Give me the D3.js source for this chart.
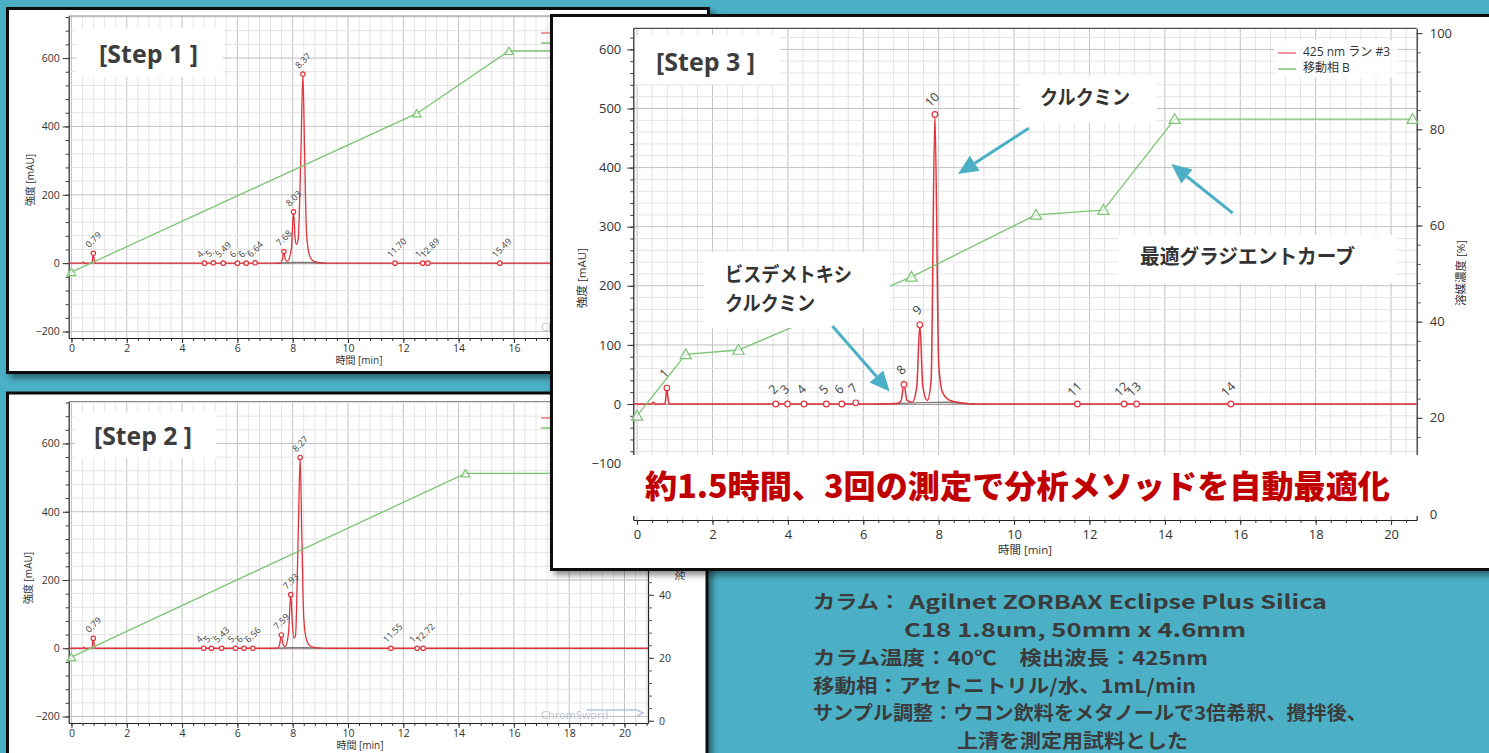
<!DOCTYPE html>
<html>
<head>
<meta charset="utf-8">
<script src="https://cdn.jsdelivr.net/npm/d3@7"></script>
<style>
  body { margin: 0; background: #4bb0c6; }
  svg { display: block; }
  text { font-family: "Open Sans", "Noto Sans", "Noto Sans CJK JP", sans-serif; }
</style>
</head>
<body>
<svg id="chart" width="1489" height="753"></svg>
<script>
// ---------- axis tick values ----------
const timeTicks = [0, 2, 4, 6, 8, 10, 12, 14, 16, 18, 20];
const absTicksWide = [-200, 0, 200, 400, 600];
const absTicksStep3 = [-100, 0, 100, 200, 300, 400, 500, 600];
const pctTicks = [0, 20, 40, 60, 80, 100];

// ---------- Step 1 run: 425 nm trace [min, mAU] ----------
const step1Trace = [[-0.1,0],[0.38,0],[0.44,3],[0.5,-1],[0.56,0],[0.74,0],[0.77,18],[0.79,29],[0.81,18],[0.85,0],
  [7.55,0],[7.63,12],[7.68,34],[7.73,12],[7.8,5],[7.95,40],[8.03,150],[8.09,70],[8.14,55],[8.2,70],[8.3,330],
  [8.37,553],[8.43,330],[8.5,90],[8.6,25],[8.75,6],[9.0,1],[9.4,0],[20.85,0]];
const step1Base = [[7.4,0],[8.0,2],[8.6,2],[9.2,0]];
const step1PeakTimes = [0.79, 4.81, 5.13, 5.49, 6.00, 6.32, 6.64, 7.68, 8.03, 8.37, 11.70, 12.70, 12.89, 15.49];
const step1PeakHeights = [29, 0, 1, 0, 0, 0, 1, 34, 150, 553, 0, 0, 0, 0];
const step1PeakLabels = ["0.79","4..","5..","5.49","6..","6..","6.64","7.68","8.03","8.37","11.70","1..","12.89","15.49"];
// mobile phase B [%]
const step1GradTimes = [0, 12.49, 15.82, 20.57];
const step1GradPct = [20.2, 70.5, 90.3, 90.3];

// ---------- Step 2 run ----------
const step2Trace = [[-0.1,0],[0.4,0],[0.45,3],[0.5,-1],[0.56,0],[0.74,0],[0.77,18],[0.79,29],[0.81,18],[0.85,0],
  [7.45,0],[7.53,12],[7.59,39],[7.65,12],[7.73,5],[7.85,45],[7.93,157],[7.99,70],[8.05,30],[8.1,35],[8.2,330],
  [8.27,559],[8.33,330],[8.4,90],[8.5,25],[8.65,6],[8.9,1],[9.3,0],[20.85,0]];
const step2Base = [[7.3,0],[7.9,2],[8.5,2],[9.1,0]];
const step2PeakTimes = [0.79, 4.78, 5.06, 5.43, 5.93, 6.24, 6.56, 7.59, 7.93, 8.27, 11.55, 12.50, 12.72];
const step2PeakHeights = [29, 0, 0, 0, 0, 0, 0, 39, 157, 559, 0, 0, 0];
const step2PeakLabels = ["0.79","4..","5..","5.43","5..","6..","6.56","7.59","7.93","8.27","11.55","1..","12.72"];
const step2GradTimes = [0, 14.25, 20.57];
const step2GradPct = [20.2, 78.6, 78.6];

// ---------- Step 3 run ----------
const step3Trace = [[-0.1,0],[0.38,0],[0.44,3],[0.5,-1],[0.56,0],[0.74,0],[0.77,16],[0.79,27],[0.81,16],[0.85,0],
  [5.7,0],[5.8,2],[5.9,0],[6.9,1],[7.0,5],[7.08,33],[7.16,6],[7.3,3],[7.42,30],[7.5,134],[7.58,30],[7.7,6],
  [7.8,40],[7.9,490],[8.0,70],[8.1,20],[8.3,6],[8.6,2],[9.0,0],[20.68,0]];
const step3Base = [[6.3,0],[7.0,1],[7.6,2.5],[8.2,3],[8.6,1],[9.0,0]];
const step3PeakTimes = [0.79, 3.68, 3.99, 4.43, 5.02, 5.43, 5.80, 7.08, 7.50, 7.90, 11.68, 12.92, 13.25, 15.75];
const step3PeakHeights = [27, 0, 0, 0, 0, 0, 2, 33, 134, 490, 0, 0, 0, 0];
const step3PeakLabels = ["1","2","3","4","5","6","7","8","9","10","11","12","13","14"];
const step3GradTimes = [0, 1.29, 2.69, 7.28, 10.58, 12.37, 14.26, 20.57];
const step3GradPct = [20.4, 33.2, 34.1, 49.3, 62.2, 63.2, 82.1, 82.1];

// ---------- colours ----------
const RED = "#e2323c", GREEN = "#7cc474", TEAL = "#4bb0c6", INK = "#3d3d3d";

const svg = d3.select("#chart");
const defs = svg.append("defs");
const shadow = defs.append("filter").attr("id", "shadow")
  .attr("x", "-5%").attr("y", "-5%").attr("width", "115%").attr("height", "115%");
shadow.append("feDropShadow").attr("dx", 4).attr("dy", 4).attr("stdDeviation", 3)
  .attr("flood-color", "#000").attr("flood-opacity", 0.45);

svg.append("rect").attr("width", 1489).attr("height", 753).attr("fill", TEAL);

// the Step 3 panel sits on top of the other two
const STEP3_BOX = [551.5, 15.5, 960, 554];

function pairs(ts, vs) { return ts.map((t, i) => [t, vs[i]]); }
function steps(lo, hi, step) {
  const out = [];
  const n0 = Math.ceil(lo / step - 1e-9), n1 = Math.floor(hi / step + 1e-9);
  for (let i = n0; i <= n1; i++) out.push(+(i * step).toFixed(4));
  return out;
}

function drawPanel(cfg) {
  const g = svg.append("g");
  const [bx, by, bw, bh] = cfg.box;
  g.append("rect").attr("x", bx).attr("y", by).attr("width", bw).attr("height", bh)
    .attr("fill", "#fff").attr("stroke", "#111").attr("stroke-width", 3).attr("filter", "url(#shadow)");

  const x = d3.scaleLinear().domain(cfg.tDom).range([cfg.x0, cfg.x1]);
  const y = d3.scaleLinear().domain(cfg.aDom).range([cfg.y1, cfg.y0]);
  const yp = d3.scaleLinear().domain(cfg.pDom).range([cfg.y1, cfg.y0]);

  const clipId = "clip" + cfg.id;
  defs.append("clipPath").attr("id", clipId).append("rect")
    .attr("x", cfg.x0).attr("y", cfg.y0).attr("width", cfg.x1 - cfg.x0).attr("height", cfg.y1 - cfg.y0);

  // grid
  const grid = g.append("g");
  const vLines = steps(0, cfg.tDom[1], cfg.tMinor);
  const hLines = steps(cfg.aDom[0], cfg.aDom[1], cfg.aMinor);
  const isMajor = (v, s) => Math.abs(v / s - Math.round(v / s)) < 1e-6;
  grid.selectAll(".v").data(vLines).join("line")
    .attr("x1", d => x(d)).attr("x2", d => x(d)).attr("y1", cfg.y0).attr("y2", cfg.y1)
    .attr("stroke", d => isMajor(d, 2) ? "#c2c2c2" : "#e4e4e4").attr("stroke-width", 1);
  grid.selectAll(".h").data(hLines).join("line")
    .attr("x1", cfg.x0).attr("x2", cfg.x1).attr("y1", d => y(d)).attr("y2", d => y(d))
    .attr("stroke", d => isMajor(d, cfg.aMajor) ? "#c2c2c2" : "#e4e4e4").attr("stroke-width", 1);
  g.append("line").attr("x1", cfg.x0).attr("x2", cfg.x1).attr("y1", cfg.y0).attr("y2", cfg.y0)
    .attr("stroke", cfg.topLine).attr("stroke-width", 1);

  function styleAxis(sel, fs) {
    sel.select(".domain").attr("stroke", "#222").attr("stroke-width", 1.2);
    sel.selectAll(".tick line").attr("stroke", "#333");
    sel.selectAll("text").attr("fill", "#333").style("font-size", fs + "px")
      .style("font-family", '"Open Sans","Noto Sans",sans-serif');
  }

  // left axis
  const la = g.append("g").attr("transform", `translate(${cfg.x0},0)`)
    .call(d3.axisLeft(y).tickValues(cfg.aTicks).tickSize(6).tickSizeOuter(0).tickPadding(cfg.padY).tickFormat(d3.format("d")));
  styleAxis(la, cfg.fs);
  const lm = g.append("g").attr("transform", `translate(${cfg.x0},0)`)
    .call(d3.axisLeft(y).tickValues(hLines).tickSize(3).tickFormat(""));
  lm.select(".domain").remove(); lm.selectAll(".tick line").attr("stroke", "#333");

  // bottom axis
  const ba = g.append("g").attr("transform", `translate(0,${cfg.y1})`)
    .call(d3.axisBottom(x).tickValues(timeTicks.filter(t => t <= cfg.tDom[1])).tickSize(5).tickSizeOuter(0).tickPadding(cfg.padX));
  styleAxis(ba, cfg.fs);
  const bm = g.append("g").attr("transform", `translate(0,${cfg.y1})`)
    .call(d3.axisBottom(x).tickValues(vLines).tickSize(3).tickFormat(""));
  bm.select(".domain").remove(); bm.selectAll(".tick line").attr("stroke", "#333");

  // right axis (mobile phase %)
  const ra = g.append("g").attr("transform", `translate(${cfg.x1},0)`)
    .call(d3.axisRight(yp).tickValues(pctTicks).tickSize(6).tickSizeOuter(0).tickPadding(cfg.padR));
  styleAxis(ra, cfg.fs);
  const rm = g.append("g").attr("transform", `translate(${cfg.x1},0)`)
    .call(d3.axisRight(yp).tickValues(steps(0, 100, 4)).tickSize(4).tickFormat(""));
  rm.select(".domain").remove(); rm.selectAll(".tick line").attr("stroke", "#555");

  // axis titles
  const tfs = cfg.titleFs;
  g.append("text").attr("transform", `translate(${cfg.yTitle[0]},${cfg.yTitle[1]}) rotate(-90)`)
    .attr("text-anchor", "middle").attr("dominant-baseline", "middle")
    .style("font-size", tfs + "px").attr("fill", "#333").text("強度 [mAU]");
  g.append("text").attr("transform", `translate(${cfg.rTitle[0]},${cfg.rTitle[1]}) rotate(-90)`)
    .attr("text-anchor", "middle").attr("dominant-baseline", "middle")
    .style("font-size", tfs + "px").attr("fill", "#333").text("溶媒濃度 [%]");
  g.append("text").attr("x", cfg.xTitle[0]).attr("y", cfg.xTitle[1])
    .attr("text-anchor", "middle").attr("dominant-baseline", "middle")
    .style("font-size", tfs + "px").attr("fill", "#333").text("時間 [min]");

  // watermark
  if (cfg.mark) {
    const wm = g.append("g").attr("opacity", 0.75);
    wm.append("text").attr("x", cfg.mark[0]).attr("y", cfg.mark[1])
      .style("font-size", "11px").attr("fill", "#a9b0bf").text("ChromSword");
    wm.append("path").attr("d", `M${cfg.mark[0] + 45},${cfg.mark[1] - 9} L${cfg.mark[0] + 96},${cfg.mark[1] - 9} L${cfg.mark[0] + 102},${cfg.mark[1] - 6} L${cfg.mark[0] + 96},${cfg.mark[1] - 3}`)
      .attr("fill", "none").attr("stroke", "#9fb3d6").attr("stroke-width", 1.5);
  }

  const plot = g.append("g").attr("clip-path", `url(#${clipId})`);
  // integration baseline
  plot.append("path").datum(cfg.base)
    .attr("d", d3.line().x(d => x(d[0])).y(d => y(d[1])))
    .attr("fill", "none").attr("stroke", "#7a7a7a").attr("stroke-width", 1.2);
  plot.append("line").attr("x1", x(0)).attr("x2", cfg.x1).attr("y1", y(0) + 0.6).attr("y2", y(0) + 0.6)
    .attr("stroke", "#6b3b3b").attr("stroke-width", 0.8).attr("opacity", 0.6);
  // detector trace
  plot.append("path").datum(cfg.trace)
    .attr("d", d3.line().x(d => x(d[0])).y(d => y(d[1])).curve(d3.curveMonotoneX))
    .attr("fill", "none").attr("stroke", RED).attr("stroke-width", cfg.traceW);
  // gradient profile
  const grad = pairs(cfg.gradT, cfg.gradP);
  plot.append("path").datum(grad)
    .attr("d", d3.line().x(d => x(d[0])).y(d => yp(d[1])))
    .attr("fill", "none").attr("stroke", GREEN).attr("stroke-width", 1.3);
  g.selectAll(null).data(grad).join("path")
    .attr("transform", d => `translate(${x(d[0])},${yp(d[1]) + 1})`)
    .attr("d", d3.symbol(d3.symbolTriangle, cfg.triSize))
    .attr("fill", "#fff").attr("fill-opacity", 0.6).attr("stroke", GREEN).attr("stroke-width", 1.2);

  // peak markers and labels
  const peaks = cfg.peakT.map((t, i) => ({ t, h: cfg.peakH[i], label: cfg.peakL[i] }));
  g.selectAll(null).data(peaks).join("circle")
    .attr("cx", d => x(d.t)).attr("cy", d => y(d.h)).attr("r", cfg.markR)
    .attr("fill", "#fff").attr("stroke", RED).attr("stroke-width", 1.2);
  if (cfg.labelMode === "start") {
    g.selectAll(null).data(peaks).join("text")
      .attr("transform", d => `translate(${x(d.t) - 4},${y(d.h) - 5}) rotate(-45)`)
      .style("font-size", cfg.labelFs + "px").attr("fill", "#444").text(d => d.label);
  } else {
    g.selectAll(null).data(peaks).join("text")
      .attr("transform", d => `translate(${x(d.t) - 2},${y(d.h) - 14}) rotate(-45)`)
      .attr("text-anchor", "middle").attr("dominant-baseline", "middle")
      .style("font-size", cfg.labelFs + "px").attr("fill", "#444").text(d => d.label);
  }

  // legend
  const lg = g.append("g");
  const L = cfg.legend;
  if (L.bg) lg.append("rect").attr("x", L.x - 4).attr("y", L.y - 13).attr("width", 124).attr("height", 38)
    .attr("fill", "#fff").attr("opacity", 0.85);
  lg.append("line").attr("x1", L.x).attr("x2", L.x + 18).attr("y1", L.y).attr("y2", L.y).attr("stroke", "#e8787c").attr("stroke-width", 1.5);
  lg.append("line").attr("x1", L.x).attr("x2", L.x + 18).attr("y1", L.y + L.dy).attr("y2", L.y + L.dy).attr("stroke", GREEN).attr("stroke-width", 1.5);
  lg.append("text").attr("x", L.x + 25).attr("y", L.y).attr("dominant-baseline", "middle")
    .style("font-size", L.fs + "px").attr("fill", "#333").text("425 nm ラン #3");
  lg.append("text").attr("x", L.x + 25).attr("y", L.y + L.dy).attr("dominant-baseline", "middle")
    .style("font-size", L.fs + "px").attr("fill", "#333").text("移動相 B");

  // step tag
  const S = cfg.tag;
  g.append("rect").attr("x", S.box[0]).attr("y", S.box[1]).attr("width", S.box[2]).attr("height", S.box[3]).attr("fill", "#fff");
  g.append("text").attr("x", S.x).attr("y", S.y).attr("textLength", S.w).attr("lengthAdjust", "spacingAndGlyphs")
    .style("font-size", "25px").style("font-weight", 700).attr("fill", INK).text(S.text);

  return { g, x, y, yp };
}

// texts of a lower panel that end up fully under the Step 3 panel are dropped
function dropCovered(g) {
  const [cx, cy, cw, ch] = STEP3_BOX;
  g.selectAll("text").each(function () {
    const r = this.getBoundingClientRect();
    if (r.width === 0) return;
    if (r.left >= cx - 1 && r.top >= cy - 1 && r.bottom <= cy + ch + 1) this.remove();
  });
}

const common12 = {
  tDom: [-0.1, 20.85], aDom: [-219, 723], pDom: [-0.7, 101.4],
  x0: 68.7, x1: 648, tMinor: 0.4, aMinor: 40, aMajor: 200, aTicks: absTicksWide,
  fs: 10.5, titleFs: 10, padY: 3, padX: 2, padR: 5, topLine: "#8a8a8a",
  traceW: 1.3, triSize: 32, markR: 2.2, labelFs: 9, labelMode: "start"
};

const p1 = drawPanel(Object.assign({}, common12, {
  id: 1, box: [7.5, 8.5, 701, 364], y0: 16, y1: 338,
  yTitle: [31, 180], xTitle: [359, 361], rTitle: [681, 167], mark: [541, 331],
  trace: step1Trace, base: step1Base, peakT: step1PeakTimes, peakH: step1PeakHeights, peakL: step1PeakLabels,
  gradT: step1GradTimes, gradP: step1GradPct,
  legend: { x: 541, y: 33, dy: 10, fs: 10 },
  tag: { box: [77, 28, 146, 49], x: 99, y: 63, w: 99, text: "[Step 1 ]" }
}));

const p2 = drawPanel(Object.assign({}, common12, {
  id: 2, box: [7.5, 393, 699.5, 380], y0: 401.5, y1: 723,
  yTitle: [29, 578], xTitle: [360, 746.5], rTitle: [681, 552], mark: [541, 719],
  trace: step2Trace, base: step2Base, peakT: step2PeakTimes, peakH: step2PeakHeights, peakL: step2PeakLabels,
  gradT: step2GradTimes, gradP: step2GradPct,
  legend: { x: 541, y: 418, dy: 10, fs: 10 },
  tag: { box: [75, 412, 141, 46], x: 94, y: 445, w: 98, text: "[Step 2 ]" }
}));

dropCovered(p1.g);
dropCovered(p2.g);

const p3 = drawPanel({
  id: 3, box: STEP3_BOX,
  tDom: [-0.1, 20.68], aDom: [-196.3, 635.7], pDom: [-1.25, 101],
  x0: 633.3, x1: 1416.7, y0: 28.3, y1: 520,
  tMinor: 0.4, aMinor: 20, aMajor: 100, aTicks: absTicksStep3,
  fs: 13, titleFs: 11.5, padY: 6, padX: 5, padR: 7, topLine: "#222",
  yTitle: [583, 278], xTitle: [1025, 551], rTitle: [1462, 273], mark: null,
  trace: step3Trace, base: step3Base, peakT: step3PeakTimes, peakH: step3PeakHeights, peakL: step3PeakLabels,
  gradT: step3GradTimes, gradP: step3GradPct,
  traceW: 1.5, triSize: 55, markR: 2.8, labelFs: 12.5, labelMode: "middle",
  legend: { x: 1278, y: 53, dy: 16, fs: 12, bg: true },
  tag: { box: [635, 35, 145, 49], x: 656, y: 71, w: 99, text: "[Step 3 ]" }
});

// ---------- Step 3 annotations ----------
const ann = p3.g.append("g");
function noteBox(bx, by, bw, bh) {
  ann.append("rect").attr("x", bx).attr("y", by).attr("width", bw).attr("height", bh).attr("fill", "#fff");
}
function noteText(tx, ty, w, str) {
  ann.append("text").attr("x", tx).attr("y", ty).attr("dominant-baseline", "middle")
    .attr("textLength", w).attr("lengthAdjust", "spacingAndGlyphs")
    .style("font-family", '"Noto Sans CJK JP",sans-serif').style("font-size", "20px").style("font-weight", 700)
    .attr("fill", "#333").text(str);
}
noteBox(1020, 75, 137, 48);  noteText(1040, 100, 90, "クルクミン");
noteBox(1118, 235, 279, 48); noteText(1140, 259, 215, "最適グラジエントカーブ");
noteBox(704, 252, 186, 76);  noteText(725, 277, 127, "ビスデメトキシ"); noteText(725, 306, 90, "クルクミン");

// arrows given in chart units [min, mAU]
const arrows = [
  [[10.39, 466.5], [8.51, 389]],
  [[15.80, 323], [14.17, 406]],
  [[5.18, 132], [6.70, 21]]
];
arrows.forEach(([a, b]) => {
  const x1 = p3.x(a[0]), y1 = p3.y(a[1]), x2 = p3.x(b[0]), y2 = p3.y(b[1]);
  const ang = Math.atan2(y2 - y1, x2 - x1), hl = 20, hw = 9;
  const bxp = x2 - hl * Math.cos(ang), byp = y2 - hl * Math.sin(ang);
  ann.append("line").attr("x1", x1).attr("y1", y1).attr("x2", bxp).attr("y2", byp)
    .attr("stroke", TEAL).attr("stroke-width", 3);
  const px = -Math.sin(ang) * hw, py = Math.cos(ang) * hw;
  ann.append("path").attr("d", `M${x2},${y2} L${bxp + px},${byp + py} L${bxp - px},${byp - py} Z`).attr("fill", TEAL);
});

// headline banner
ann.append("rect").attr("x", 624).attr("y", 455).attr("width", 800).attr("height", 61).attr("fill", "#fff");
ann.append("text").attr("x", 645).attr("y", 489).attr("dominant-baseline", "middle")
  .attr("textLength", 745).attr("lengthAdjust", "spacingAndGlyphs")
  .style("font-family", '"Noto Sans CJK JP",sans-serif').style("font-size", "32px").style("font-weight", 900)
  .attr("fill", "#c00000").text("約1.5時間、3回の測定で分析メソッドを自動最適化");

// ---------- method conditions ----------
const condLines = [
  { x: 813, y: 604, w: 88, t: "カラム：" },
  { x: 909, y: 604, w: 418, t: "Agilnet ZORBAX Eclipse Plus Silica" },
  { x: 904, y: 632, w: 342, t: "C18 1.8um, 50mm x 4.6mm" },
  { x: 813, y: 660, w: 395, t: "カラム温度：40℃　検出波長：425nm" },
  { x: 813, y: 688, w: 383, t: "移動相：アセトニトリル/水、1mL/min" },
  { x: 813, y: 714.5, w: 554, t: "サンプル調整：ウコン飲料をメタノールで3倍希釈、攪拌後、" },
  { x: 957, y: 742.5, w: 231, t: "上清を測定用試料とした" }
];
svg.append("g").selectAll("text").data(condLines).join("text")
  .attr("x", d => d.x).attr("y", d => d.y).attr("dominant-baseline", "middle")
  .attr("textLength", d => d.w).attr("lengthAdjust", "spacingAndGlyphs")
  .style("font-family", '"Noto Sans CJK JP",sans-serif').style("font-size", "19px").style("font-weight", 700)
  .attr("fill", "#3b3b3b").text(d => d.t);
</script>
</body>
</html>
